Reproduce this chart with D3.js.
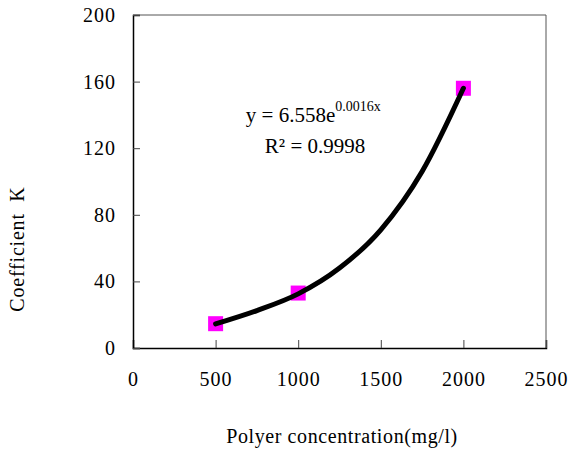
<!DOCTYPE html>
<html>
<head>
<meta charset="utf-8">
<script src="https://cdn.jsdelivr.net/npm/d3@7"></script>
<style>
  body { margin: 0; background: #fff; }
  text { font-family: "Liberation Serif", "Times New Roman", serif; fill: #000; }
</style>
</head>
<body>
<svg id="chart" width="568" height="457"></svg>
<script>
// measured points
var concentration = [500, 1000, 2000];
var coefK = [14.6, 33, 156];

// trendline
var trendX = [500, 750, 1000, 1250, 1500, 1750, 2000];
var trendY = [14.5, 22.5, 32.5, 48, 71, 106, 156];

var xTicks = [0, 500, 1000, 1500, 2000, 2500];
var yTicks = [0, 40, 80, 120, 160, 200];

var margin = {top: 15, right: 22, bottom: 109, left: 133};
var width = 568 - margin.left - margin.right;
var height = 457 - margin.top - margin.bottom;

var serif = "Liberation Serif, Times New Roman, serif";

var svg = d3.select("#chart")
var g = svg.append("g")
    .attr("transform", "translate(" + margin.left + "," + margin.top + ")");

var x = d3.scaleLinear().domain([0, 2500]).range([0, width]);
var y = d3.scaleLinear().domain([0, 200]).range([height, 0]);

// frame: top/right grey
g.append("line").attr("x1", 0).attr("x2", width).attr("y1", 0).attr("y2", 0)
    .attr("stroke", "#555").attr("stroke-width", 1);
g.append("line").attr("x1", width).attr("x2", width).attr("y1", 0).attr("y2", height)
    .attr("stroke", "#555").attr("stroke-width", 1);

// x axis
var xAxis = g.append("g")
    .attr("transform", "translate(0," + height + ")")
    .call(d3.axisBottom(x).tickValues(xTicks).tickFormat(d3.format("d")).tickSize(-8).tickPadding(20));
xAxis.attr("font-family", serif).attr("font-size", 20);
xAxis.select(".domain").attr("stroke", "#000").attr("stroke-width", 1.5);
xAxis.selectAll(".tick line").attr("stroke", "#444");
xAxis.selectAll("text")
    .style("font-family", serif)
    .style("font-size", "20px")
    .style("letter-spacing", "1px")
    .attr("dy", "0.9em");

// y axis
var yAxis = g.append("g")
    .call(d3.axisLeft(y).tickValues(yTicks).tickSize(-7).tickPadding(17));
yAxis.attr("font-family", serif).attr("font-size", 20);
yAxis.select(".domain").attr("stroke", "#000").attr("stroke-width", 1.5);
yAxis.selectAll(".tick line").attr("stroke", "#444");
yAxis.selectAll("text")
    .style("font-family", serif)
    .style("font-size", "20px")
    .style("letter-spacing", "1px");

// trendline
var line = d3.line()
    .x(function(d, i) { return x(trendX[i]); })
    .y(function(d) { return y(d); })
    .curve(d3.curveMonotoneX);

// markers
g.selectAll("rect.pt")
    .data(coefK)
    .enter()
    .append("rect")
    .attr("class", "pt")
    .attr("x", function(d, i) { return x(concentration[i]) - 7.5; })
    .attr("y", function(d) { return y(d) - 7.5; })
    .attr("width", 15)
    .attr("height", 15)
    .attr("fill", "#ff00ff");

g.append("path")
    .datum(trendY)
    .attr("d", line)
    .attr("fill", "none")
    .attr("stroke", "#000")
    .attr("stroke-width", 5)
    .attr("stroke-linecap", "round");

// equation
var eq = g.append("text")
    .attr("x", x(683))
    .attr("y", y(135.7))
    .style("font-size", "21px");
eq.append("tspan").text("y = 6.558e");
eq.append("tspan").attr("dy", "-11").style("font-size", "14px").text("0.0016x");

g.append("text")
    .attr("x", x(1102))
    .attr("y", y(117))
    .attr("text-anchor", "middle")
    .style("font-size", "21px")
    .text("R² = 0.9998");

// axis titles
svg.append("text")
    .attr("x", 342)
    .attr("y", 443)
    .attr("text-anchor", "middle")
    .style("font-size", "20px")
    .style("letter-spacing", "0.6px")
    .text("Polyer concentration(mg/l)");

svg.append("text")
    .attr("transform", "translate(24,249) rotate(-90)")
    .attr("text-anchor", "middle")
    .style("font-size", "20px")
    .style("letter-spacing", "0.8px")
    .style("white-space", "pre")
    .text("Coefficient  K");
</script>
</body>
</html>
